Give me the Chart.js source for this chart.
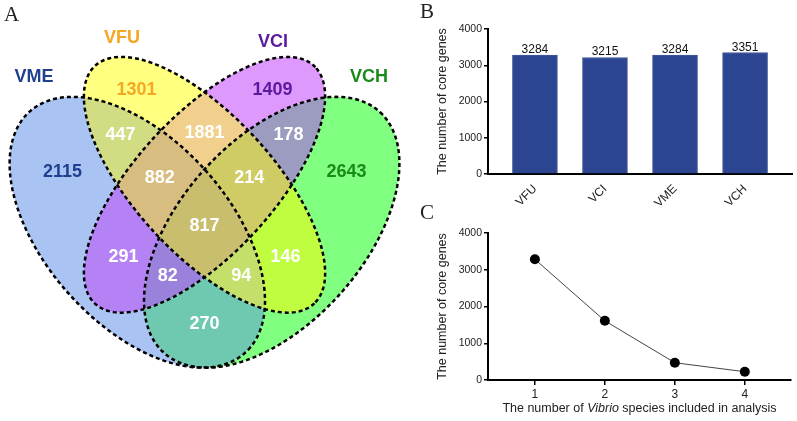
<!DOCTYPE html>
<html>
<head>
<meta charset="utf-8">
<script src="https://cdn.jsdelivr.net/npm/chart.js@4.4.1/dist/chart.umd.min.js"></script>
<style>
  body { margin: 0; background: #fff; }
  #wrap { position: relative; width: 797px; height: 421px; overflow: hidden; background: #fff; }
  #wrap canvas { position: absolute; }
  .tag { position: absolute; font-family: 'Liberation Serif', 'Times New Roman', serif; font-size: 21px; line-height: 1; color: #222; }
</style>
</head>
<body>
<div id="wrap">
  <canvas id="venn" width="420" height="421" style="left:0;top:0"></canvas>
  <canvas id="bars" width="377" height="210" style="left:420px;top:0"></canvas>
  <canvas id="curve" width="377" height="211" style="left:420px;top:210px"></canvas>
  <div class="tag" style="left:4px;top:4px">A</div>
  <div class="tag" style="left:420px;top:1px">B</div>
  <div class="tag" style="left:420px;top:202px">C</div>
</div>
<script>
// Venn data (regions coded VME/VFU/VCI/VCH membership)
const vennSets = ['VME', 'VFU', 'VCI', 'VCH'];
const vennRegions = ['1000', '0100', '0010', '0001', '1100', '0110', '0011', '1110', '0111', '1010', '0101', '1011', '1101', '1001', '1111'];
const vennCounts = [2115, 1301, 1409, 2643, 447, 1881, 178, 882, 214, 291, 146, 82, 94, 270, 817];

// Panel B
const speciesCats = ['VFU', 'VCI', 'VME', 'VCH'];
const coreGenes = [3284, 3215, 3284, 3351];

// Panel C
const speciesIncluded = [1, 2, 3, 4];
const coreCurve = [3284, 1610, 470, 225];

const yTicks = [0, 1000, 2000, 3000, 4000];

// ---- layout / style for the Venn (unit square coords, like VennDiagram) ----
const D = Math.SQRT1_2;
const ellipses = [
  { cx: 0.35, cy: 0.47, a: 0.35, b: 0.20, dx: D, dy: -D },
  { cx: 0.50, cy: 0.57, a: 0.35, b: 0.15, dx: D, dy: -D },
  { cx: 0.50, cy: 0.57, a: 0.35, b: 0.15, dx: D, dy: D },
  { cx: 0.65, cy: 0.47, a: 0.35, b: 0.20, dx: D, dy: D },
];
const regionColors = {
  '1000': '#a9c3f3', '0100': '#ffff80', '0010': '#dd99fb', '0001': '#80ff80',
  '1100': '#d2dc82', '0110': '#f0d08c', '0011': '#9c9cc0', '1110': '#d8bd80',
  '0111': '#cfcc66', '1010': '#b482f5', '0101': '#c0fc40', '1011': '#9a82dc',
  '1101': '#c5e06a', '1001': '#6ec9b0', '1111': '#c8be6e',
};
const regionLabelPos = [
  [0.183, 0.597], [0.348, 0.770], [0.652, 0.770], [0.817, 0.597],
  [0.3125, 0.675], [0.5, 0.679], [0.6875, 0.675], [0.40, 0.584],
  [0.60, 0.584], [0.319, 0.418], [0.681, 0.418], [0.418, 0.378],
  [0.582, 0.378], [0.5, 0.277], [0.5, 0.483],
];
const setLabelPos = [[0.1194, 0.797], [0.3158, 0.879], [0.6529, 0.871], [0.867, 0.797]];
const setColors = ['#1f3f8f', '#f5a623', '#5a1a9e', '#1a8a1a'];
const regionTextColor = { '1000': '#1f3f8f', '0100': '#f5a623', '0010': '#5a1a9e', '0001': '#1a8a1a' };

const FONT = "'Liberation Sans', Arial, sans-serif";

function traceEllipse(ctx, e, x, y) {
  const n = 240;
  for (let k = 0; k <= n; k++) {
    const t = (k / n) * Math.PI * 2;
    const u = e.cx + e.a * Math.cos(t) * e.dx - e.b * Math.sin(t) * e.dy;
    const v = e.cy + e.a * Math.cos(t) * e.dy + e.b * Math.sin(t) * e.dx;
    const px = x.getPixelForValue(u), py = y.getPixelForValue(v);
    if (k === 0) ctx.moveTo(px, py); else ctx.lineTo(px, py);
  }
  ctx.closePath();
}

const vennPlugin = {
  id: 'vennShapes',
  beforeDatasetsDraw(chart) {
    const { ctx, scales: { x, y }, width, height } = chart;
    vennRegions.forEach((code) => {
      ctx.save();
      ellipses.forEach((e, i) => {
        ctx.beginPath();
        if (code[i] === '1') {
          traceEllipse(ctx, e, x, y);
          ctx.clip();
        } else {
          ctx.rect(-10, -10, width + 20, height + 20);
          traceEllipse(ctx, e, x, y);
          ctx.clip('evenodd');
        }
      });
      ctx.fillStyle = regionColors[code];
      ctx.fillRect(0, 0, width, height);
      ctx.restore();
    });
    ctx.save();
    ctx.strokeStyle = '#000';
    ctx.lineWidth = 2.5;
    ctx.setLineDash([4, 3]);
    ellipses.forEach((e) => {
      ctx.beginPath();
      traceEllipse(ctx, e, x, y);
      ctx.stroke();
    });
    ctx.restore();
  },
  afterDatasetsDraw(chart) {
    const { ctx } = chart;
    ctx.save();
    ctx.font = 'bold 18px ' + FONT;
    ctx.textAlign = 'center';
    ctx.textBaseline = 'middle';
    chart.getDatasetMeta(0).data.forEach((pt, i) => {
      ctx.fillStyle = regionTextColor[vennRegions[i]] || '#ffffff';
      ctx.fillText(String(vennCounts[i]), pt.x, pt.y);
    });
    chart.getDatasetMeta(1).data.forEach((pt, i) => {
      ctx.fillStyle = setColors[i];
      ctx.fillText(vennSets[i], pt.x, pt.y);
    });
    ctx.restore();
  },
};

new Chart(document.getElementById('venn'), {
  type: 'scatter',
  data: {
    datasets: [
      { data: regionLabelPos.map((p) => ({ x: p[0], y: p[1] })), pointRadius: 0 },
      { data: setLabelPos.map((p) => ({ x: p[0], y: p[1] })), pointRadius: 0 },
    ],
  },
  options: {
    responsive: false,
    animation: false,
    events: [],
    layout: { padding: 0 },
    scales: {
      x: { type: 'linear', display: false, min: 0.0435, max: 0.981 },
      y: { type: 'linear', display: false, min: 0.0726, max: 0.959 },
    },
    plugins: { legend: { display: false }, tooltip: { enabled: false } },
  },
  plugins: [vennPlugin],
});

// ---- shared axis styling ----
const yAxis = (w) => ({
  min: 0,
  max: 4000,
  afterBuildTicks: (s) => { s.ticks = yTicks.map((v) => ({ value: v })); },
  afterFit: (s) => { s.width = w; },
  ticks: { font: { family: FONT, size: 10.5 }, color: '#222', padding: 2, callback: (v) => String(v) },
  grid: { drawOnChartArea: false, tickLength: 4, color: '#000', lineWidth: 1.5 },
  border: { color: '#000', width: 2 },
  title: {
    display: true,
    text: 'The number of core genes',
    font: { family: FONT, size: 12.5 },
    color: '#222',
    padding: { top: 15, bottom: 0 },
  },
});

const barLabels = {
  id: 'barLabels',
  afterDatasetsDraw(chart) {
    const { ctx } = chart;
    ctx.save();
    ctx.font = '12px ' + FONT;
    ctx.fillStyle = '#111';
    ctx.textAlign = 'center';
    ctx.textBaseline = 'alphabetic';
    chart.getDatasetMeta(0).data.forEach((bar, i) => {
      ctx.fillText(String(coreGenes[i]), bar.x, bar.y - 2);
    });
    ctx.restore();
  },
};

new Chart(document.getElementById('bars'), {
  type: 'bar',
  data: {
    datasets: [{
      data: coreGenes.map((v, i) => ({ x: i, y: v })),
      backgroundColor: '#2c4591',
      borderColor: '#44589a',
      borderWidth: 1,
      barThickness: 45,
    }],
  },
  options: {
    responsive: false,
    animation: false,
    events: [],
    layout: { padding: { top: 29, right: 5, bottom: 0, left: 0 } },
    scales: {
      x: {
        type: 'linear',
        offset: false,
        min: -0.67,
        max: 3.67,
        afterBuildTicks: (s) => { s.ticks = speciesCats.map((_, i) => ({ value: i })); },
        afterFit: (s) => { s.height = 36; },
        ticks: {
          callback: (v) => speciesCats[v],
          autoSkip: false,
          minRotation: 45,
          maxRotation: 45,
          font: { family: FONT, size: 12 },
          color: '#222',
          padding: 0,
        },
        grid: { display: false },
        border: { color: '#000', width: 2 },
      },
      y: yAxis(68),
    },
    plugins: { legend: { display: false }, tooltip: { enabled: false } },
  },
  plugins: [barLabels],
});

const xTitle = {
  id: 'xTitle',
  afterDraw(chart) {
    const { ctx, chartArea } = chart;
    const parts = [
      ['The number of ', ''],
      ['Vibrio', 'italic '],
      [' species included in analysis', ''],
    ];
    ctx.save();
    ctx.fillStyle = '#222';
    ctx.textBaseline = 'middle';
    ctx.textAlign = 'left';
    let total = 0;
    parts.forEach(([t, st]) => { ctx.font = st + '12.5px ' + FONT; total += ctx.measureText(t).width; });
    let x0 = (chartArea.left + chartArea.right) / 2 - total / 2;
    parts.forEach(([t, st]) => {
      ctx.font = st + '12.5px ' + FONT;
      ctx.fillText(t, x0, 199);
      x0 += ctx.measureText(t).width;
    });
    ctx.restore();
  },
};

new Chart(document.getElementById('curve'), {
  type: 'line',
  data: {
    datasets: [{
      data: speciesIncluded.map((n, i) => ({ x: n, y: coreCurve[i] })),
      borderColor: '#444',
      borderWidth: 1,
      pointRadius: 5,
      pointBackgroundColor: '#000',
      pointBorderWidth: 0,
      clip: false,
    }],
  },
  options: {
    responsive: false,
    animation: false,
    events: [],
    layout: { padding: { top: 23, right: 6, bottom: 0, left: 0 } },
    scales: {
      x: {
        type: 'linear',
        min: 0.33,
        max: 4.66,
        afterBuildTicks: (s) => { s.ticks = speciesIncluded.map((v) => ({ value: v })); },
        afterFit: (s) => { s.height = 41; },
        ticks: { font: { family: FONT, size: 12 }, color: '#222', padding: 2 },
        grid: { drawOnChartArea: false, tickLength: 5, color: '#000', lineWidth: 1.5 },
        border: { color: '#000', width: 2 },
      },
      y: yAxis(68),
    },
    plugins: { legend: { display: false }, tooltip: { enabled: false } },
  },
  plugins: [xTitle],
});
</script>
</body>
</html>
